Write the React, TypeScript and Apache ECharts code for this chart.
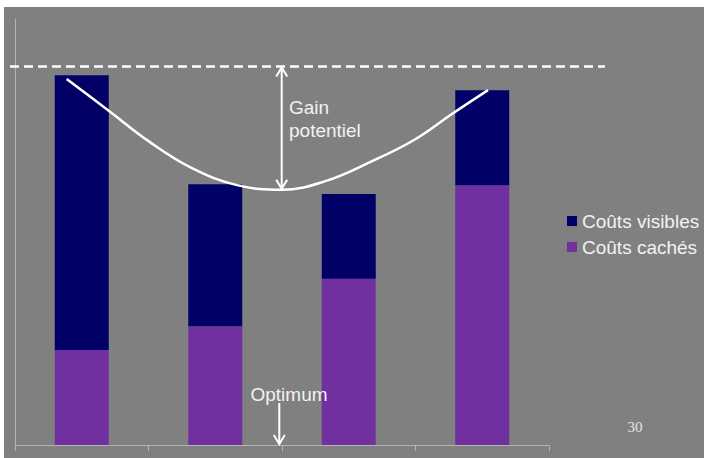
import React, { useEffect, useRef } from "react";
import * as echarts from "echarts";

const categories = ["1", "2", "3", "4"];
const hiddenCosts = [22.3, 27.9, 39.0, 61.0];
const visibleCosts = [64.5, 33.3, 19.9, 22.3];
// total-cost curve: [position along the category axis (0..4), value]
const curveX = [0.387, 0.697, 1.011, 1.326, 1.663, 2.0, 2.33, 2.659, 2.989, 3.273, 3.543];
const curveY = [85.9, 78.6, 71.1, 65.0, 61.0, 59.9, 62.0, 66.4, 71.6, 77.7, 83.3];
const ceilingLevel = 88.85;
const optimumX = 2.0;
const legendNames = ["Coûts visibles", "Coûts cachés"];
const pageNumber = "30";

const FONT = "'Liberation Sans', Arial, sans-serif";
const TEXT = "#f2f2f2";

export default function App() {
  const ref = useRef<HTMLDivElement>(null);
  useEffect(() => {
    if (!ref.current) return;
    const chart = echarts.init(ref.current, null, { renderer: "svg" });
    const curveData = curveX.map((x, i) => [x, curveY[i]]);
    chart.setOption({
      animation: false,
      backgroundColor: "#808080",
      grid: { left: 11, top: 12, width: 534, height: 426 },
      legend: {
        orient: "vertical",
        left: 558,
        top: 199,
        itemWidth: 10,
        itemHeight: 10,
        itemGap: 6,
        icon: "rect",
        data: legendNames,
        textStyle: { color: TEXT, fontSize: 19, lineHeight: 20, fontFamily: FONT },
      },
      xAxis: [
        {
          type: "category",
          data: categories,
          axisLine: { lineStyle: { color: "#b4b4b4", width: 1 } },
          axisTick: { show: true, length: 6, lineStyle: { color: "#b4b4b4" } },
          axisLabel: { show: false },
          splitLine: { show: false },
        },
        { type: "value", min: 0, max: 4, show: false },
      ],
      yAxis: {
        type: "value",
        min: 0,
        max: 100,
        axisLine: { show: true, lineStyle: { color: "#b4b4b4", width: 1 } },
        axisTick: { show: false },
        axisLabel: { show: false },
        splitLine: { show: false },
      },
      series: [
        {
          name: legendNames[1],
          type: "bar",
          stack: "total",
          barWidth: 54,
          data: hiddenCosts,
          itemStyle: { color: "#7030A0" },
        },
        {
          name: legendNames[0],
          type: "bar",
          stack: "total",
          barWidth: 54,
          data: visibleCosts,
          itemStyle: { color: "#000066" },
        },
        {
          name: "courbe",
          type: "line",
          xAxisIndex: 1,
          yAxisIndex: 0,
          data: curveData,
          smooth: 0.4,
          symbol: "none",
          lineStyle: { color: "#ffffff", width: 2.5 },
          z: 5,
        },
      ],
    });

    const yCeil = chart.convertToPixel({ yAxisIndex: 0 }, ceilingLevel) as number;
    const yMinCurve = chart.convertToPixel({ yAxisIndex: 0 }, Math.min(...curveY)) as number;
    const yBase = chart.convertToPixel({ yAxisIndex: 0 }, 0) as number;
    const xOpt = chart.convertToPixel({ xAxisIndex: 1 }, optimumX) as number;
    const white = { stroke: "#ffffff", lineWidth: 2, fill: null };
    const xa = xOpt - 0.3;
    const xb = xOpt - 2.7;

    chart.setOption({
      graphic: [
        {
          type: "line",
          shape: { x1: 6, y1: yCeil, x2: 601, y2: yCeil },
          style: { stroke: "#ffffff", lineWidth: 2.5, lineDash: [9, 5] },
          z: 10,
        },
        { type: "line", shape: { x1: xa, y1: yCeil + 1, x2: xa, y2: yMinCurve - 1 }, style: white, z: 10 },
        {
          type: "polyline",
          shape: { points: [[xa - 5.5, yCeil + 10], [xa, yCeil + 1], [xa + 5.5, yCeil + 10]] },
          style: white,
          z: 10,
        },
        {
          type: "polyline",
          shape: { points: [[xa - 5.5, yMinCurve - 10], [xa, yMinCurve - 1], [xa + 5.5, yMinCurve - 10]] },
          style: white,
          z: 10,
        },
        {
          type: "text",
          x: xOpt + 7,
          y: 112,
          style: {
            text: "Gain\npotentiel",
            fill: TEXT,
            font: `19px ${FONT}`,
            lineHeight: 23,
            verticalAlign: "middle",
            align: "left",
          },
          z: 10,
        },
        {
          type: "text",
          x: xOpt + 7,
          y: 387,
          style: { text: "Optimum", fill: TEXT, font: `19px ${FONT}`, align: "center", verticalAlign: "middle" },
          z: 10,
        },
        { type: "line", shape: { x1: xb, y1: 396, x2: xb, y2: yBase - 1 }, style: white, z: 10 },
        {
          type: "polyline",
          shape: { points: [[xb - 5.5, yBase - 10], [xb, yBase - 1], [xb + 5.5, yBase - 10]] },
          style: white,
          z: 10,
        },
        {
          type: "text",
          x: 631,
          y: 420,
          style: {
            text: pageNumber,
            fill: "#e6e6e6",
            font: "15px 'Liberation Serif', 'Times New Roman', serif",
            align: "center",
            verticalAlign: "middle",
          },
          z: 10,
        },
      ],
    });
    return () => chart.dispose();
  }, []);

  return (
    <div style={{ position: "absolute", left: 0, top: 0, width: 704, height: 458, background: "#ffffff" }}>
      <div ref={ref} style={{ position: "absolute", left: 4, top: 7, width: 700, height: 451 }} />
    </div>
  );
}
